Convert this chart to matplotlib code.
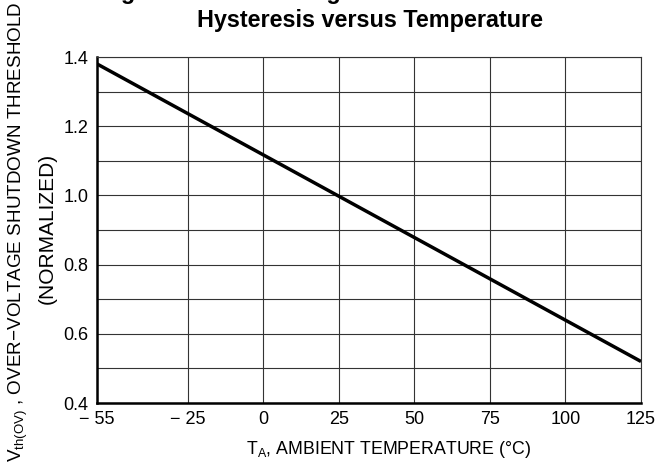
import matplotlib
matplotlib.use("Agg")
import matplotlib.pyplot as plt
from matplotlib import font_manager

temps = [-55, 125]
vth_norm = [1.38, 0.52]
x_ticks = [-55, -25, 0, 25, 50, 75, 100, 125]
x_tick_labels = ["− 55", "− 25", "0", "25", "50", "75", "100", "125"]
y_ticks = [0.4, 0.6, 0.8, 1.0, 1.2, 1.4]
y_tick_labels = ["0.4", "0.6", "0.8", "1.0", "1.2", "1.4"]

names = {f.name for f in font_manager.fontManager.ttflist}
narrow = "Liberation Sans Narrow" if "Liberation Sans Narrow" in names else "Liberation Sans"
plt.rcParams['font.family'] = [narrow, 'DejaVu Sans']
plt.rcParams['mathtext.fontset'] = 'custom'
plt.rcParams['mathtext.rm'] = narrow
plt.rcParams['mathtext.it'] = narrow

fig = plt.figure(figsize=(6.72, 4.68), dpi=100)
ax = fig.add_axes([97/672, 1-403/468, (641-97)/672, (403-57)/468])

ax.plot(temps, vth_norm, color='black', lw=2.5, solid_capstyle='butt', zorder=3)
ax.set_xlim(-55, 125)
ax.set_ylim(0.4, 1.4)
ax.set_xticks(x_ticks)
ax.set_xticklabels(x_tick_labels)
ax.set_yticks(y_ticks)
ax.set_yticklabels(y_tick_labels)
ax.set_yticks([0.5, 0.7, 0.9, 1.1, 1.3], minor=True)
ax.grid(True, which='both', color='#333333', lw=0.8)
ax.tick_params(which='both', length=0, labelsize=13, pad=6)
for s in ['left', 'bottom']:
    ax.spines[s].set_linewidth(1.8)
for s in ['top', 'right']:
    ax.spines[s].set_linewidth(0.8)
    ax.spines[s].set_color('#333333')

fig.text(389/672, 1-449/468, "T$_{\\mathrm{A}}$, AMBIENT TEMPERATURE (°C)",
         ha='center', va='center', fontsize=12.8)
fig.text(18/672, 1-232/468, "V$_{\\mathrm{th(OV)}}$ , OVER−VOLTAGE SHUTDOWN THRESHOLD",
         rotation=90, ha='center', va='center', fontsize=13.6)
fig.text(47/672, 1-228/468, "(NORMALIZED)", rotation=90, ha='center', va='center', fontsize=15)

fig.text(370/672, 1+1/468, "Figure 9. Over−Voltage Shutdown Threshold and",
         ha='center', va='baseline', fontsize=16.8, fontweight='bold', family='Liberation Sans')
fig.text(370/672, 1-27/468, "Hysteresis versus Temperature",
         ha='center', va='baseline', fontsize=16.8, fontweight='bold', family='Liberation Sans')

fig.savefig("out.png", dpi=100)
